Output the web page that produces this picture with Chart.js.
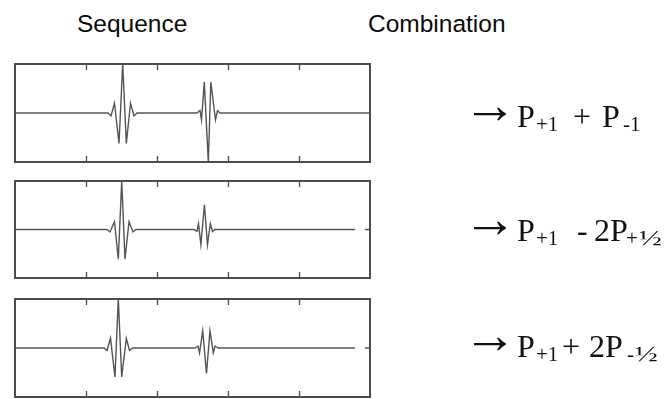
<!DOCTYPE html>
<html>
<head>
<meta charset="utf-8">
<script src="https://cdn.jsdelivr.net/npm/chart.js@4.4.1/dist/chart.umd.min.js"></script>
<style>
  html, body { margin: 0; padding: 0; background: #fff; }
  body { width: 668px; height: 399px; position: relative; overflow: hidden; }
  .head { position: absolute; font-family: "Liberation Sans", Arial, sans-serif; font-size: 24.5px; line-height: 24px; color: #0a0a0a; white-space: nowrap; }
  .panel { position: absolute; left: 13px; width: 359px; }
  .formula { position: absolute; left: 0; width: 668px; height: 40px; font-family: "Liberation Serif", "Times New Roman", serif; color: #111; }
  .formula > span { position: absolute; white-space: nowrap; }
  .m { font-size: 32px; line-height: 32px; top: 0; }
  .s { font-size: 21px; line-height: 21px; top: 14px; }
  .a { font-size: 54px; line-height: 54px; top: -22px; }
  .h { display: inline-block; transform: scaleX(1.45); transform-origin: left center; margin-left: 1px; }
</style>
</head>
<body>
<div class="head" style="left:77px; top:12px;">Sequence</div>
<div class="head" style="left:368px; top:12px;">Combination</div>

<div class="panel" style="top:62px; height:102px;"><canvas id="c1" width="359" height="102"></canvas></div>
<div class="panel" style="top:179px; height:101px;"><canvas id="c2" width="359" height="101"></canvas></div>
<div class="panel" style="top:297px; height:102px;"><canvas id="c3" width="359" height="102"></canvas></div>

<div class="formula" style="top:100px;">
  <span class="a" style="left:463px;">&rarr;</span><span class="m" style="left:517px;">P</span><span class="s" style="left:536px;">+1</span><span class="m" style="left:573px;">+</span><span class="m" style="left:602px;">P</span><span class="s" style="left:623px;">-1</span>
</div>
<div class="formula" style="top:214px;">
  <span class="a" style="left:463px;">&rarr;</span><span class="m" style="left:517px;">P</span><span class="s" style="left:536px;">+1</span><span class="m" style="left:577px;">-</span><span class="m" style="left:594px;">2P</span><span class="s" style="left:626px;">+<span class="h">&frac12;</span></span>
</div>
<div class="formula" style="top:330px;">
  <span class="a" style="left:463px;">&rarr;</span><span class="m" style="left:517px;">P</span><span class="s" style="left:536px;">+1</span><span class="m" style="left:562px;">+</span><span class="m" style="left:589px;">2P</span><span class="s" style="left:627px;">-<span class="h">&frac12;</span></span>
</div>

<script>
// ---- data (time axis 0..5, normalised amplitude -1..1) ----
const xTicks = [1, 2, 3, 4];

const seq1X = [0, 1.310, 1.352, 1.401, 1.465, 1.517, 1.568, 1.627, 1.676, 1.718,
               2.563, 2.606, 2.627, 2.666, 2.723, 2.758, 2.824, 2.852, 2.887, 5];
const seq1Y = [0, 0, -0.06, 0.20, -0.62, 1.00, -0.62, 0.20, -0.06, 0,
               0, 0.05, -0.14, 0.63, -1.00, 0.63, -0.14, 0.05, 0, 0];

const seq2X = [0, 1.296, 1.338, 1.401, 1.455, 1.503, 1.549, 1.606, 1.662, 1.704,
               2.521, 2.563, 2.585, 2.618, 2.668, 2.711, 2.751, 2.782, 2.817, 4.789, 4.86, 4.93, 5];
const seq2Y = [0, 0, -0.05, 0.16, -0.61, 1.00, -0.61, 0.16, -0.05, 0,
               0, -0.04, 0.12, -0.31, 0.51, -0.31, 0.12, -0.04, 0, 0, null, 0, 0];

const seq3X = [0, 1.254, 1.296, 1.345, 1.408, 1.455, 1.503, 1.568, 1.613, 1.655,
               2.535, 2.577, 2.599, 2.644, 2.697, 2.746, 2.793, 2.817, 2.859, 4.789, 4.86, 4.93, 5];
const seq3Y = [0, 0, -0.05, 0.20, -0.59, 1.00, -0.59, 0.20, -0.05, 0,
               0, 0.04, -0.10, 0.35, -0.52, 0.35, -0.10, 0.04, 0, 0, null, 0, 0];

const frameColor = '#4d4d4d';
const traceColor = '#555555';

const framePlugin = {
  id: 'frame',
  afterDraw(chart) {
    const { ctx, chartArea: a } = chart;
    const xs = chart.scales.x;
    ctx.save();
    ctx.strokeStyle = frameColor;
    ctx.lineWidth = 2;
    ctx.strokeRect(a.left, a.top, a.right - a.left, a.bottom - a.top);
    ctx.lineWidth = 1.3;
    xTicks.forEach(v => {
      const px = Math.round(xs.getPixelForValue(v)) + 0.5;
      ctx.beginPath();
      ctx.moveTo(px, a.top); ctx.lineTo(px, a.top + 6);
      ctx.moveTo(px, a.bottom); ctx.lineTo(px, a.bottom - 6);
      ctx.stroke();
    });
    ctx.restore();
  }
};

function makePanel(id, xs, ys) {
  const pts = xs.map((x, i) => ({ x: x, y: ys[i] }));
  new Chart(document.getElementById(id), {
    type: 'line',
    data: { datasets: [{ data: pts, borderColor: traceColor, borderWidth: 1.4, pointRadius: 0, tension: 0, spanGaps: false, fill: false }] },
    options: {
      responsive: false,
      devicePixelRatio: 1,
      animation: false,
      layout: { padding: { left: 2, right: 2, top: 2, bottom: 2 } },
      plugins: { legend: { display: false }, tooltip: { enabled: false }, title: { display: false } },
      scales: {
        x: { type: 'linear', min: 0, max: 5, display: false },
        y: { min: -1, max: 1, display: false }
      }
    },
    plugins: [framePlugin]
  });
}

makePanel('c1', seq1X, seq1Y);
makePanel('c2', seq2X, seq2Y);
makePanel('c3', seq3X, seq3Y);
</script>
</body>
</html>
